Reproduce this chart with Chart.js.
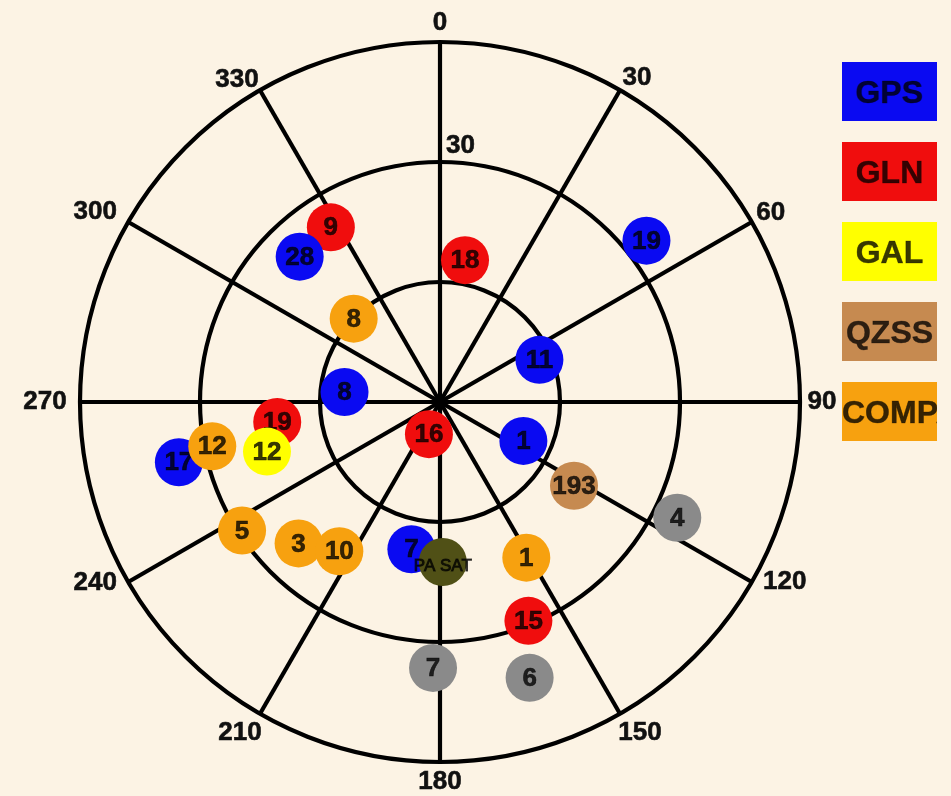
<!DOCTYPE html>
<html><head><meta charset="utf-8">
<script src="https://cdn.jsdelivr.net/npm/chart.js@4.4.0/dist/chart.umd.min.js"></script>
<style>
html,body{margin:0;padding:0;background:#fcf3e4;width:951px;height:796px;overflow:hidden;}
#wrap{position:relative;width:951px;height:796px;}
canvas{position:absolute;left:0;top:0;}
.lg{position:absolute;left:842px;width:95px;height:59px;overflow:hidden;white-space:nowrap;text-align:center;
 font:bold 32px "Liberation Sans",Arial,sans-serif;line-height:61px;color:rgba(0,0,0,0.78);-webkit-text-stroke:0.6px rgba(0,0,0,0.5);}
</style></head><body>
<div id="wrap"><canvas id="c" width="951" height="796"></canvas><div id="legend"></div></div>
<script>
// ---- tick labels ----
const azimuthTicks = [0, 30, 60, 90, 120, 150, 180, 210, 240, 270, 300, 330];
const elevationRings = [0, 30, 60];
const elevationRingLabels = [30];

// ---- legend ----
const legendNames = ['GPS', 'GLN', 'GAL', 'QZSS', 'COMPASS'];

// ---- satellites (azimuth deg, elevation deg) ----
const glnPrn = ['18', '9', '16', '19', '15'];
const glnAz  = [10, 328, 199, 263, 158];
const glnEl  = [54, 38.5, 81.5, 49, 31];

const gpsPrn = ['19', '28', '8', '11', '1', '17', '7'];
const gpsAz  = [52, 316, 276, 67, 115, 257, 191];
const gpsEl  = [24.5, 39.5, 66, 63, 67, 23, 52.5];

const galPrn = ['12'];
const galAz  = [254];
const galEl  = [45];

const compPrn = ['8', '12', '5', '3', '10', '1'];
const compAz  = [314, 259, 237, 225, 214, 151];
const compEl  = [60, 32, 31, 40, 45, 45.5];

const qzssPrn = ['193'];
const qzssAz  = [122];
const qzssEl  = [50.5];

const otherPrn = ['4', '7', '6'];
const otherAz  = [116, 181.5, 162];
const otherEl  = [24, 23.5, 17.5];

const pasatPrn = ['PA SAT'];
const pasatAz  = [179];
const pasatEl  = [50];

// ---- styles ----
const colors = {gps:'#0a0af2', gln:'#f00d0d', gal:'#ffff00', qzss:'#c68a50', comp:'#f7a10f', other:'#8a8a8a', pasat:'#505016'};
const legendColors = [colors.gps, colors.gln, colors.gal, colors.qzss, colors.comp];
const azLabelOffsets = [[0,-19],[17,-12],[19,-9],[22,0],[33,0],[20,19],[0,20],[-20,19],[-33,1],[-35,0],[-33,-10],[-23,-10]];
const FONT = '"Liberation Sans", Arial, sans-serif';

function toXY(az, el) {
  return az.map((a, i) => {
    const r = 90 - el[i];
    const t = a * Math.PI / 180;
    return {x: r * Math.sin(t), y: r * Math.cos(t)};
  });
}

// legend boxes (HTML text)
const lg = document.getElementById('legend');
legendNames.forEach((n, i) => {
  const d = document.createElement('div');
  d.className = 'lg';
  d.style.top = (62 + i * 80) + 'px';
  d.style.background = legendColors[i];
  d.textContent = n;
  lg.appendChild(d);
});

function heavyText(ctx, s, x, y) {
  ctx.fillText(s, x, y);
  ctx.strokeText(s, x, y);
}

const gridPlugin = {
  id: 'polarGrid',
  beforeDatasetsDraw(chart) {
    const ctx = chart.ctx, sx = chart.scales.x, sy = chart.scales.y;
    const cx = sx.getPixelForValue(0), cy = sy.getPixelForValue(0);
    ctx.save();
    ctx.strokeStyle = '#000';
    ctx.lineWidth = 4.2;
    elevationRings.forEach(el => {
      const r = sx.getPixelForValue(90 - el) - cx;
      ctx.beginPath(); ctx.arc(cx, cy, r, 0, Math.PI * 2); ctx.stroke();
    });
    azimuthTicks.forEach(a => {
      const t = a * Math.PI / 180;
      const ex = sx.getPixelForValue(90 * Math.sin(t)), ey = sy.getPixelForValue(90 * Math.cos(t));
      ctx.beginPath(); ctx.moveTo(cx, cy); ctx.lineTo(ex, ey); ctx.stroke();
    });
    ctx.font = 'bold 26px ' + FONT;
    ctx.fillStyle = '#111';
    ctx.strokeStyle = '#111';
    ctx.lineWidth = 0.6;
    azimuthTicks.forEach((a, i) => {
      const t = a * Math.PI / 180;
      const ex = sx.getPixelForValue(90 * Math.sin(t)), ey = sy.getPixelForValue(90 * Math.cos(t));
      ctx.textAlign = 'center'; ctx.textBaseline = 'middle';
      heavyText(ctx, String(a), ex + azLabelOffsets[i][0], ey + azLabelOffsets[i][1]);
    });
    elevationRingLabels.forEach(el => {
      const top = sy.getPixelForValue(90 - el);
      ctx.textAlign = 'left'; ctx.textBaseline = 'alphabetic';
      heavyText(ctx, String(el), cx + 6, top - 9);
    });
    ctx.restore();
  },
  afterDatasetDraw(chart, args) {
    const ds = chart.data.datasets[args.index];
    const ctx = chart.ctx;
    ctx.save();
    ctx.font = ds.labelFont || ('bold 26px ' + FONT);
    ctx.fillStyle = ds.labelColor || 'rgba(0,0,0,0.78)';
    ctx.strokeStyle = ds.labelColor || 'rgba(0,0,0,0.78)';
    ctx.lineWidth = ds.labelStroke === undefined ? 0.6 : ds.labelStroke;
    ctx.textAlign = 'center'; ctx.textBaseline = 'middle';
    args.meta.data.forEach((pt, i) => {
      const y = pt.y + (ds.labelDy || 1);
      ctx.fillText(ds.prn[i], pt.x, y);
      if (ctx.lineWidth > 0.01) ctx.strokeText(ds.prn[i], pt.x, y);
    });
    ctx.restore();
  }
};

function ds(label, prn, az, el, color, order, extra) {
  return Object.assign({
    label, prn, data: toXY(az, el), backgroundColor: color, borderWidth: 0,
    pointRadius: 24, pointHoverRadius: 24, order, clip: false
  }, extra || {});
}

new Chart(document.getElementById('c'), {
  type: 'scatter',
  data: {
    datasets: [
      ds('GLN', glnPrn, glnAz, glnEl, colors.gln, 7),
      ds('GPS', gpsPrn, gpsAz, gpsEl, colors.gps, 6),
      ds('GAL', galPrn, galAz, galEl, colors.gal, 5),
      ds('COMP', compPrn, compAz, compEl, colors.comp, 4),
      ds('QZSS', qzssPrn, qzssAz, qzssEl, colors.qzss, 3),
      ds('Other', otherPrn, otherAz, otherEl, colors.other, 2),
      ds('PASAT', pasatPrn, pasatAz, pasatEl, colors.pasat, 1, {labelFont: '17px ' + FONT, labelColor: 'rgba(0,0,0,0.7)', labelDy: 4, labelStroke: 0})
    ]
  },
  options: {
    responsive: false,
    animation: false,
    events: [],
    layout: {padding: {left: 80, right: 151, top: 42, bottom: 34}},
    plugins: {legend: {display: false}, tooltip: {enabled: false}},
    scales: {
      x: {type: 'linear', min: -90, max: 90, display: false},
      y: {type: 'linear', min: -90, max: 90, display: false}
    }
  },
  plugins: [gridPlugin]
});
</script>
</body></html>
